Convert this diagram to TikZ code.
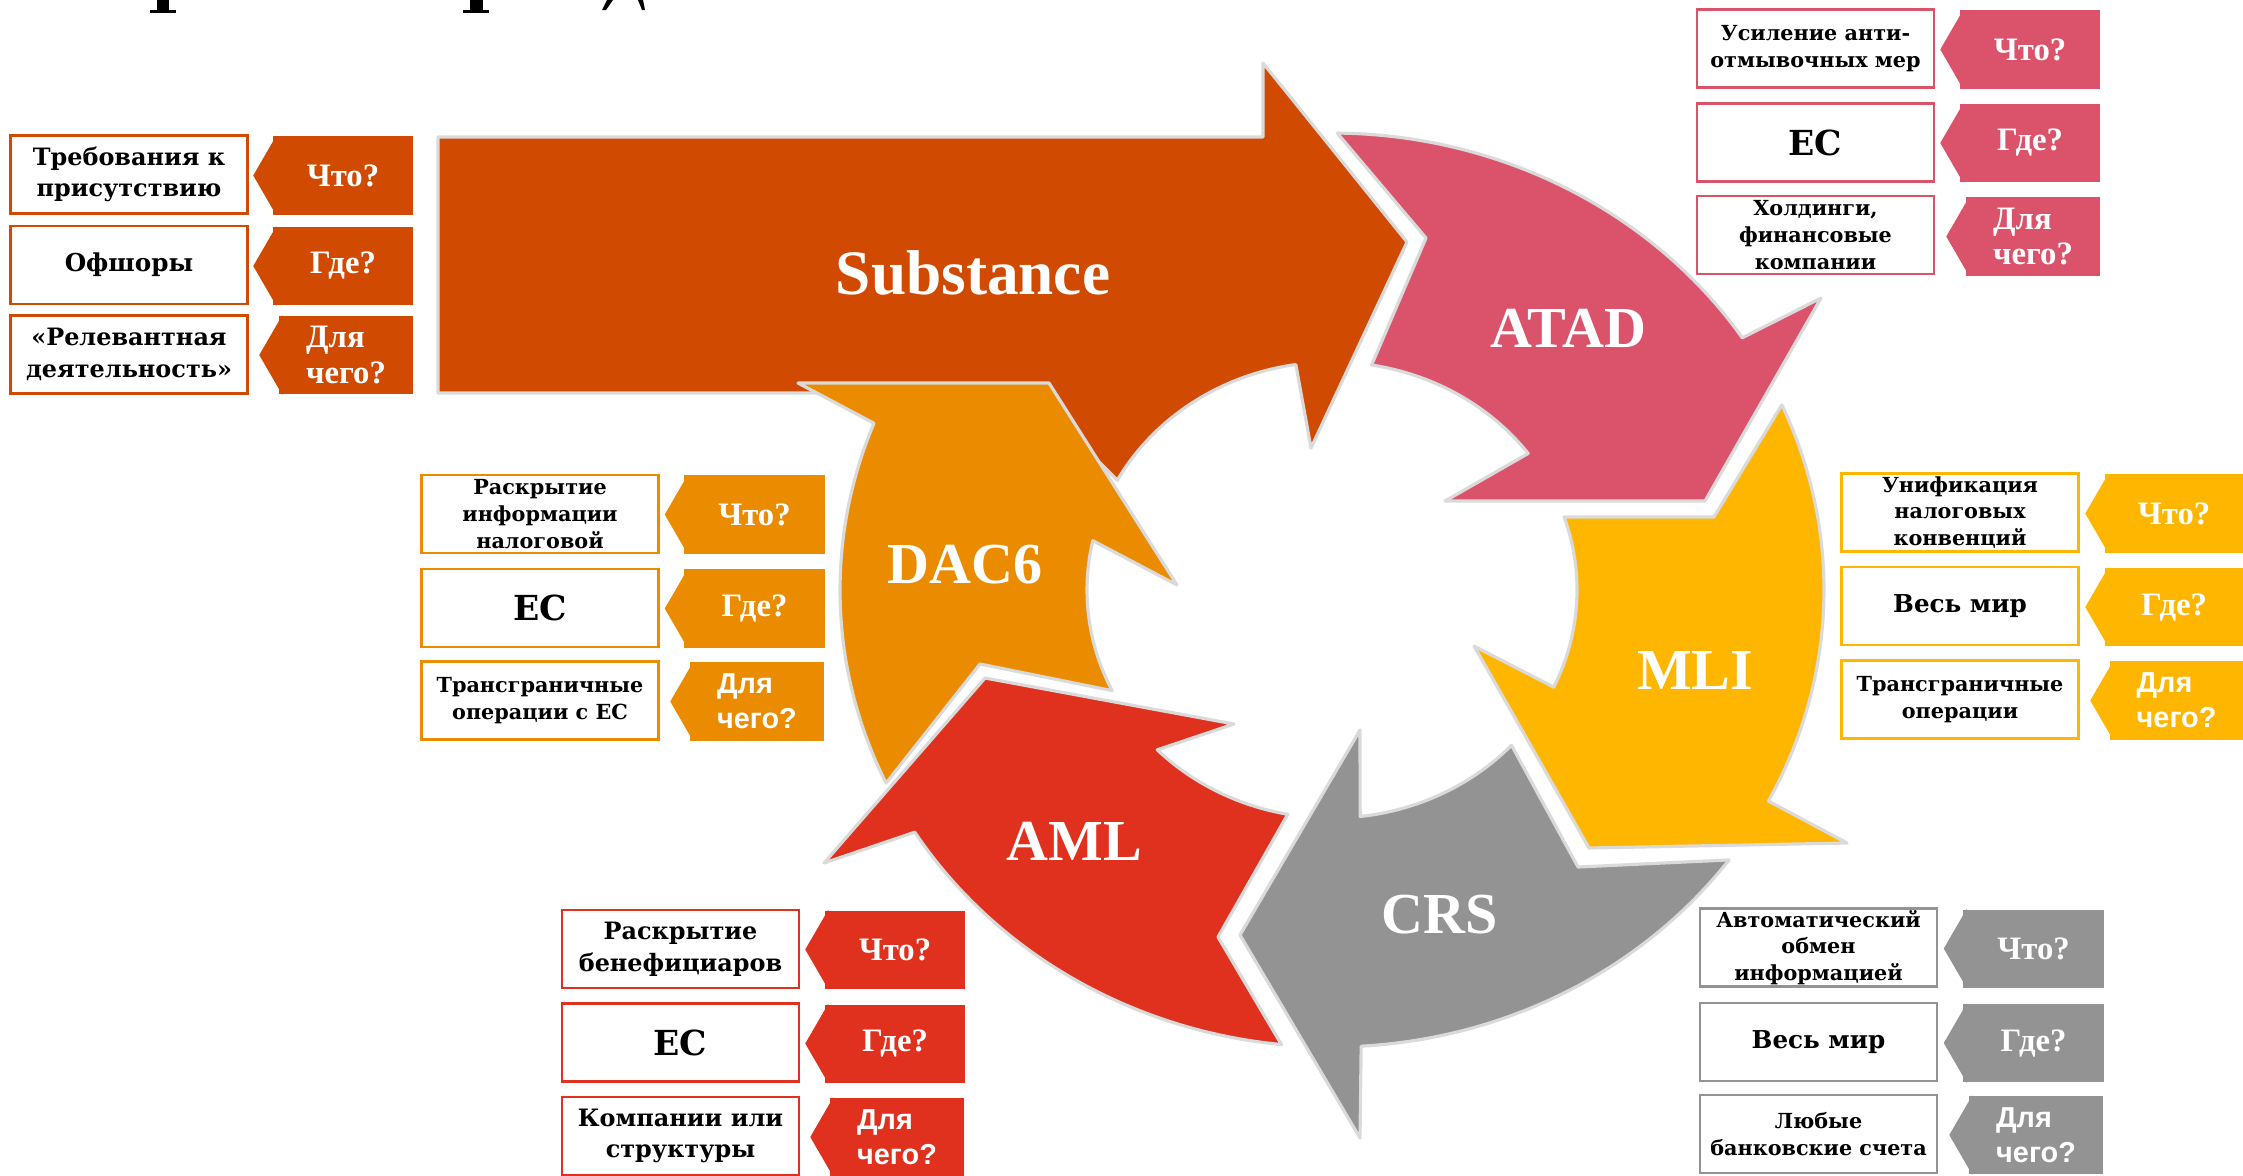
\documentclass[tikz,border=0pt]{standalone}
\usepackage{fontspec}
\setmainfont{DejaVu Serif}
\setsansfont{Liberation Sans}
\newfontfamily\tnr{Liberation Serif}
\usetikzlibrary{calc}

\definecolor{subst}{HTML}{D04A02}
\definecolor{atad}{HTML}{DB536A}
\definecolor{dac}{HTML}{EB8C00}
\definecolor{mli}{HTML}{FFB600}
\definecolor{crs}{HTML}{939393}
\definecolor{aml}{HTML}{E0301E}
\definecolor{rim}{HTML}{DADADA}

\tikzset{piece/.style={fill=#1,draw=rim,line width=0.9pt,line join=round}}
\tikzset{rim arc/.style 2 args={start angle=#1,end angle=#2,x radius=492,y radius=457}}
\tikzset{hub arc/.style 2 args={start angle=#1,end angle=#2,x radius=245,y radius=228}}
\tikzset{big label/.style={text=white,font=\tnr\bfseries\fontsize{16.5}{18}\selectfont}}
\tikzset{box/.style={draw=#1,fill=white,line width=0.7pt,minimum width=2.37cm,minimum height=0.78cm,inner sep=0pt,align=center}}
\tikzset{qtag/.style={fill=#1,text=white,minimum width=1.4cm,minimum height=0.78cm,inner sep=0pt,align=left,font=\tnr\bfseries\fontsize{9.3}{10}\selectfont}}
\tikzset{sans tag/.style={font=\sffamily\bfseries\fontsize{8.2}{10}\selectfont}}
\tikzset{narrow/.style={minimum width=1.34cm}}
\tikzset{two lines/.style={font=\bfseries\fontsize{6.8}{9}\selectfont}}
\tikzset{three lines/.style={font=\bfseries\fontsize{5.9}{7.6}\selectfont}}
\tikzset{one line/.style={font=\bfseries\fontsize{7}{9}\selectfont}}
\tikzset{ec/.style={font=\bfseries\fontsize{9.8}{11}\selectfont}}

\newcommand{\tagtip}[2]{\fill[#1] ([xshift=0.4mm]#2.north west) -- ([xshift=-0.19cm]#2.west) -- ([xshift=0.4mm]#2.south west) -- cycle;}

\begin{document}
\begin{tikzpicture}[x=0.01cm,y=-0.01cm]
\useasboundingbox (0,0) rectangle (2243,1175);

\fill (157,0) rectangle (169,11);
\fill (150,10) rectangle (176,13);
\fill (470,0) rectangle (483,11);
\fill (463,10) rectangle (489,13);
\fill (607,0) -- (613,0) -- (606,10) -- (602,10) -- cycle;
\fill (638,0) -- (643,0) -- (645,10) -- (642,10) -- cycle;

\coordinate (c) at (1332,590);

\path[piece=subst] (438,137) -- (1263,137) -- (1263,63) -- (1407,242) -- (1311,448)
  -- ($(c)+(261.5:245 and 228)$) arc[hub arc={261.5}{208.8}] -- (1030,393) -- (438,393) -- cycle;
\path[piece=atad] ($(c)+(-89.4:492 and 457)$) arc[rim arc={-89.4}{-33.5}] -- (1821,298) -- (1705,501) -- (1445,501)
  -- ($(c)+(-36.8:245 and 228)$) arc[hub arc={-36.8}{-80.7}] -- (1426,238) -- cycle;
\path[piece=mli] ($(c)+(-23.9:492 and 457)$) arc[rim arc={-23.9}{27.5}] -- (1847,843) -- (1589,848) -- (1474,646)
  -- ($(c)+(25.2:245 and 228)$) arc[hub arc={25.2}{-18.7}] -- (1714,517) -- cycle;
\path[piece=crs] ($(c)+(36.2:492 and 457)$) arc[rim arc={36.2}{86.6}] -- (1360,1138) -- (1240,935) -- (1360,730)
  -- ($(c)+(83.4:245 and 228)$) arc[hub arc={83.4}{42.9}] -- (1578,867) -- cycle;
\path[piece=aml] ($(c)+(95.9:492 and 457)$) arc[rim arc={95.9}{148}] -- (824,863) -- (985,678) -- (1234,724)
  -- ($(c)+(135.5:245 and 228)$) arc[hub arc={135.5}{100.4}] -- (1218,937) -- cycle;
\path[piece=dac] ($(c)+(155:492 and 457)$) arc[rim arc={155}{201.4}] -- (798,383) -- (1049,383) -- (1177,585)
  -- ($(c)+(192.5:245 and 228)$) arc[hub arc={192.5}{153.8}] -- (980,664) -- cycle;

\node[big label,font=\tnr\bfseries\fontsize{18}{20}\selectfont] (substance) at (973,273) {Substance};
\node[big label] (atad) at (1568,328) {ATAD};
\node[big label] (mli) at (1695,670) {MLI};
\node[big label] (crs) at (1440,915) {CRS};
\node[big label] (aml) at (1074,841) {AML};
\node[big label] (dac6) at (965,565) {DAC6};

\node[box=subst,two lines] (subst1) at (129,174.5) {Требования к\\присутствию};
\node[box=subst,one line] (subst2) at (129,265) {Офшоры};
\node[box=subst,two lines] (subst3) at (129,354.5) {«Релевантная\\деятельность»};
\node[qtag=subst] (subst-what) at (343,175.5) {Что?};
\node[qtag=subst] (subst-where) at (343,266) {Где?};
\node[qtag=subst,narrow] (subst-why) at (346,355) {Для\\чего?};
\tagtip{subst}{subst-what}
\tagtip{subst}{subst-where}
\tagtip{subst}{subst-why}

\node[box=atad,three lines] (atad1) at (1815.5,48.5) {Усиление анти-\\отмывочных мер};
\node[box=atad,ec] (atad2) at (1815.5,142.5) {ЕС};
\node[box=atad,three lines] (atad3) at (1815.5,235) {Холдинги,\\финансовые\\компании};
\node[qtag=atad] (atad-what) at (2030,49.5) {Что?};
\node[qtag=atad] (atad-where) at (2030,143) {Где?};
\node[qtag=atad,narrow] (atad-why) at (2033,236.5) {Для\\чего?};
\tagtip{atad}{atad-what}
\tagtip{atad}{atad-where}
\tagtip{atad}{atad-why}

\node[box=dac,three lines] (dac1) at (540,514) {Раскрытие\\информации\\налоговой};
\node[box=dac,ec] (dac2) at (540,608) {ЕС};
\node[box=dac,three lines] (dac3) at (540,700.5) {Трансграничные\\операции с ЕС};
\node[qtag=dac] (dac-what) at (754.5,514.5) {Что?};
\node[qtag=dac] (dac-where) at (754.5,608.5) {Где?};
\node[qtag=dac,narrow,sans tag] (dac-why) at (757,701.5) {Для\\чего?};
\tagtip{dac}{dac-what}
\tagtip{dac}{dac-where}
\tagtip{dac}{dac-why}

\node[box=mli,three lines] (mli1) at (1960,512.5) {Унификация\\налоговых\\конвенций};
\node[box=mli,one line] (mli2) at (1960,606) {Весь мир};
\node[box=mli,three lines] (mli3) at (1960,699.5) {Трансграничные\\операции};
\node[qtag=mli,minimum width=1.38cm] (mli-what) at (2174,513.5) {Что?};
\node[qtag=mli,minimum width=1.38cm] (mli-where) at (2174,607) {Где?};
\node[qtag=mli,minimum width=1.33cm,sans tag] (mli-why) at (2176.5,700.5) {Для\\чего?};
\tagtip{mli}{mli-what}
\tagtip{mli}{mli-where}
\tagtip{mli}{mli-why}

\node[box=aml,two lines] (aml1) at (680.5,949) {Раскрытие\\бенефициаров};
\node[box=aml,ec] (aml2) at (680.5,1042.5) {ЕС};
\node[box=aml,two lines] (aml3) at (680.5,1136) {Компании или\\структуры};
\node[qtag=aml] (aml-what) at (895,949.5) {Что?};
\node[qtag=aml] (aml-where) at (895,1043.5) {Где?};
\node[qtag=aml,narrow,sans tag] (aml-why) at (897,1137) {Для\\чего?};
\tagtip{aml}{aml-what}
\tagtip{aml}{aml-where}
\tagtip{aml}{aml-why}

\node[box=crs,three lines] (crs1) at (1818.5,947.5) {Автоматический\\обмен\\информацией};
\node[box=crs,one line] (crs2) at (1818.5,1042) {Весь мир};
\node[box=crs,three lines] (crs3) at (1818.5,1134) {Любые\\банковские счета};
\node[qtag=crs] (crs-what) at (2033.5,948.5) {Что?};
\node[qtag=crs] (crs-where) at (2033.5,1043) {Где?};
\node[qtag=crs,narrow,sans tag] (crs-why) at (2036,1135) {Для\\чего?};
\tagtip{crs}{crs-what}
\tagtip{crs}{crs-where}
\tagtip{crs}{crs-why}
\end{tikzpicture}
\end{document}
